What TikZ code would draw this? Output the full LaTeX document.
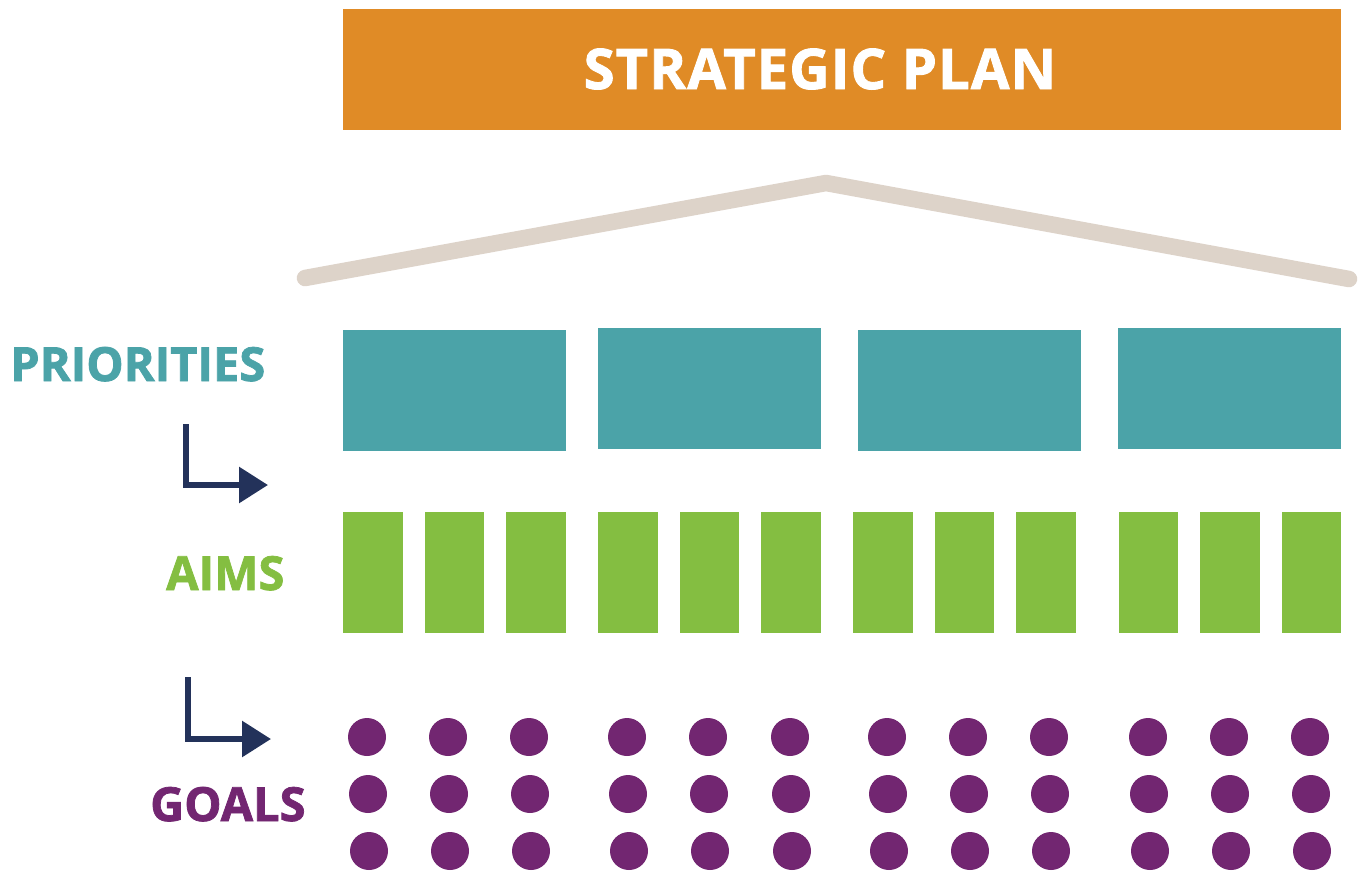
\documentclass[tikz,border=0pt]{standalone}
\usepackage{fontspec}
\setmainfont{Open Sans}[BoldFeatures={FakeBold=1.6}]
\usetikzlibrary{arrows.meta}
\definecolor{planorange}{HTML}{E08B26}
\definecolor{prioteal}{HTML}{4BA3A8}
\definecolor{aimgreen}{HTML}{84BE41}
\definecolor{goalpurple}{HTML}{722671}
\definecolor{arrownavy}{HTML}{23325A}
\definecolor{roofbeige}{HTML}{DDD3C9}
\tikzset{
  x=1pt, y=-1pt,
  planbox/.style={fill=planorange, inner sep=0, minimum width=998pt, minimum height=121pt},
  priobox/.style={fill=prioteal, inner sep=0, minimum width=223pt, minimum height=121pt},
  aimbox/.style={fill=aimgreen, inner sep=0, minimum width=59.5pt, minimum height=121pt},
  goaldot/.style={circle, fill=goalpurple, inner sep=0, minimum size=38pt},
  levellabel/.style={font=\fontsize{47}{47}\selectfont\bfseries, inner sep=0, anchor=base west},
  roofline/.style={draw=roofbeige, line width=16.5pt, line cap=round, line join=round},
  steparrow/.style={draw=arrownavy, line width=6pt, line join=miter, -{Triangle[length=29pt,width=35pt]}}
}
\begin{document}
\begin{tikzpicture}
\useasboundingbox (0,0) rectangle (1358,871);
% Strategic plan
\node[planbox] (plan) at (842,69.5) {};
\node[font=\fontsize{56}{56}\selectfont\bfseries\addfontfeatures{LetterSpace=2}, text=white, inner sep=0, anchor=base] (plantext) at (820,89) {STRATEGIC PLAN};
% roof
\coordinate (roofL) at (305,278);
\coordinate (roofT) at (826,183);
\coordinate (roofR) at (1349,279);
\draw[roofline] (roofL) -- (roofT) -- (roofR);
% priorities
\node[priobox] (p1) at (454.5,390.5) {};
\node[priobox] (p2) at (709.5,388.5) {};
\node[priobox] (p3) at (969.5,390.5) {};
\node[priobox] (p4) at (1229.5,388) {};
% aims
\foreach \i/\xx in {1/372.75,2/454.25,3/535.75,4/627.75,5/709.25,6/790.75,7/882.75,8/964.25,9/1045.75,10/1148.25,11/1229.75,12/1311.25}{
  \node[aimbox] (a\i) at (\xx,572.5) {};
}
% goals
\foreach \i/\xx in {1/367,2/448,3/529,4/627,5/708,6/790,7/887,8/968,9/1049,10/1148,11/1229,12/1310}{
  \node[goaldot] (g\i-1) at (\xx,737) {};
  \node[goaldot] (g\i-2) at (\xx+1,794) {};
  \node[goaldot] (g\i-3) at (\xx+2,851) {};
}
% labels
\node[levellabel, text=prioteal] (lprio) at (10,381) {PRIORITIES};
\node[levellabel, text=aimgreen] (laims) at (166,590) {AIMS};
\node[levellabel, text=goalpurple] (lgoals) at (150,821) {GOALS};
% arrows
\coordinate (ar1top) at (186,424);
\coordinate (ar1tip) at (268,485);
\draw[steparrow] (ar1top) |- (ar1tip);
\coordinate (ar2top) at (188,677);
\coordinate (ar2tip) at (271,739);
\draw[steparrow] (ar2top) |- (ar2tip);
\end{tikzpicture}
\end{document}
